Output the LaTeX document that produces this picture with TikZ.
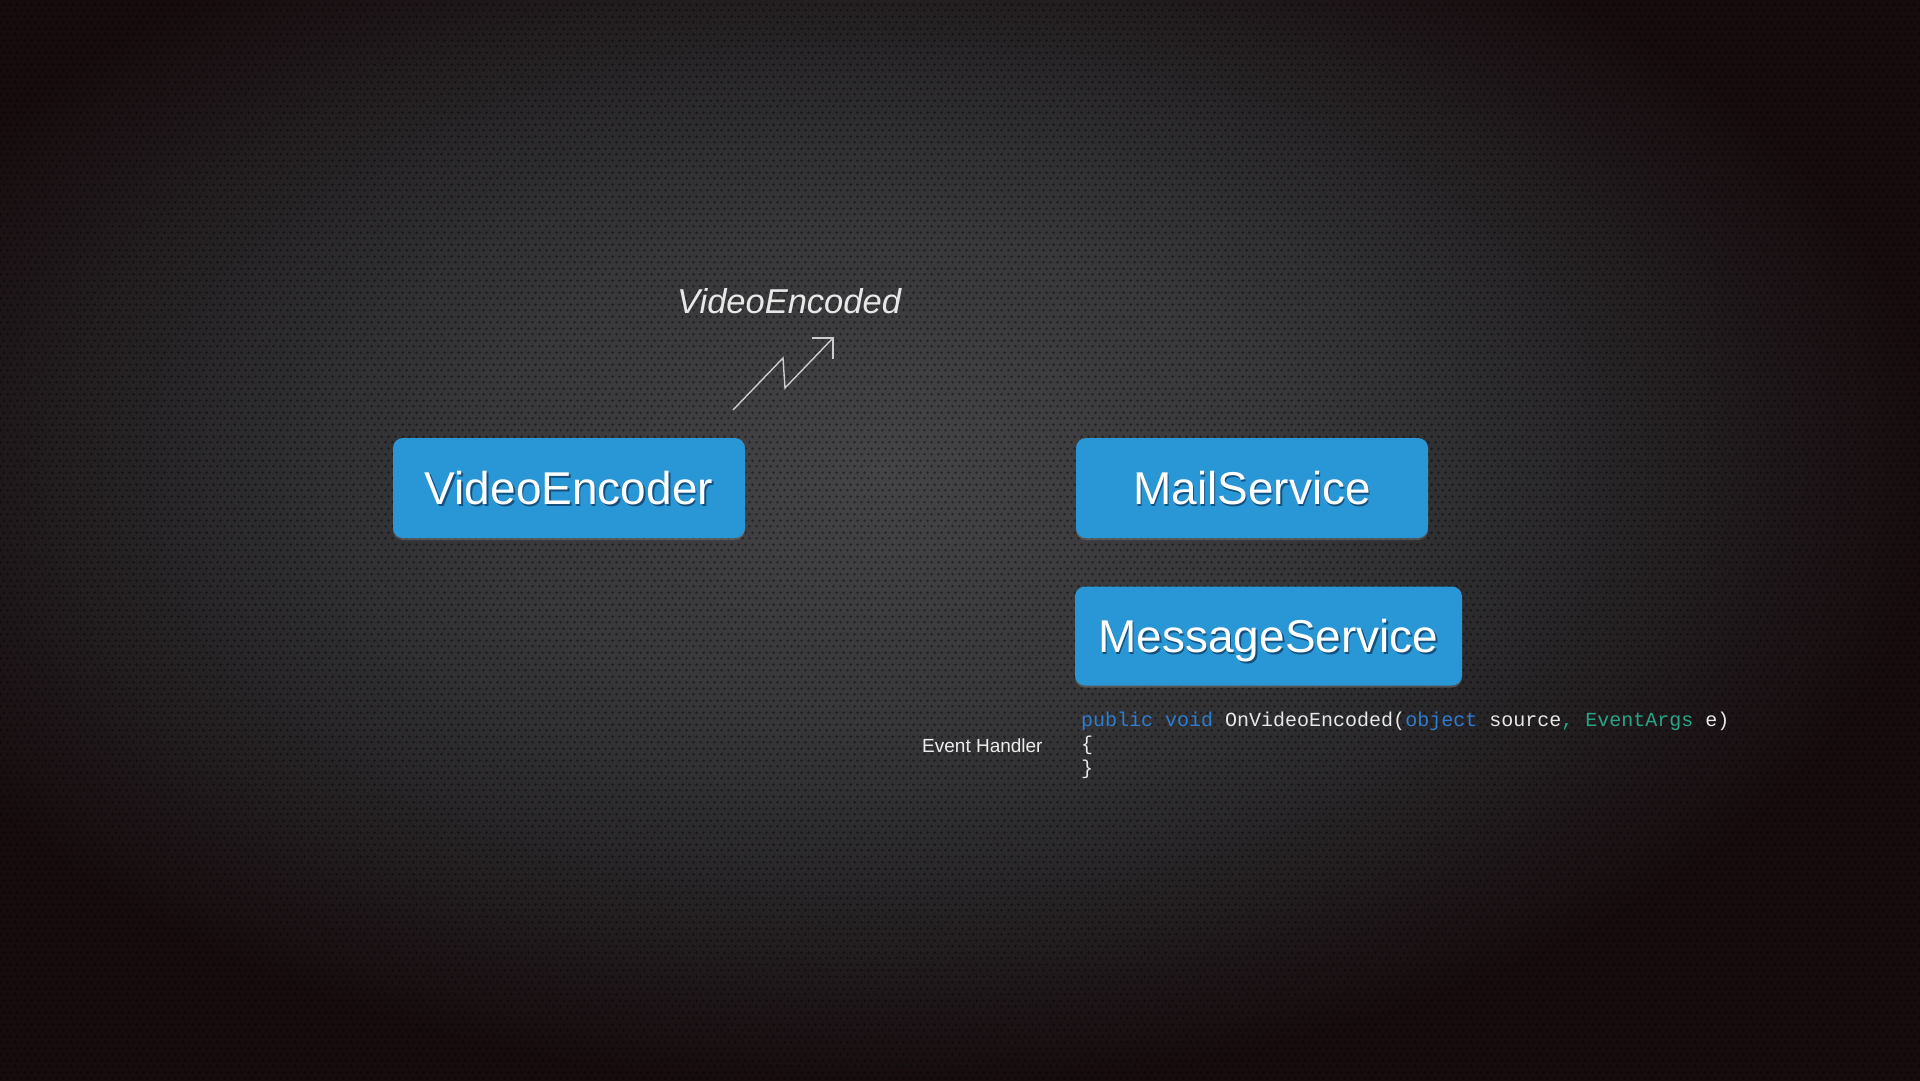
\documentclass[tikz,border=0pt]{standalone}
\usepackage{fontspec}
\setmainfont{Liberation Sans}
\newfontfamily\codefont{Liberation Mono}
\usetikzlibrary{patterns.meta,shadows}

\definecolor{bgA}{RGB}{68,68,70}
\definecolor{bgB}{RGB}{55,55,57}
\definecolor{bgC}{RGB}{39,37,39}
\definecolor{bgD}{RGB}{28,20,22}
\definecolor{bgE}{RGB}{22,12,14}
\definecolor{boxblue}{RGB}{41,151,214}
\definecolor{txtshadow}{RGB}{20,80,125}
\definecolor{kwblue}{RGB}{45,125,210}
\definecolor{typegreen}{RGB}{40,165,135}
\definecolor{codegray}{RGB}{232,232,232}
\definecolor{lightline}{RGB}{205,205,205}

\pgfdeclareradialshading{bgshade}{\pgfpoint{0bp}{0bp}}{color(0bp)=(bgA); color(10bp)=(bgB); color(17bp)=(bgC); color(22bp)=(bgD); color(25bp)=(bgE); color(50bp)=(bgE)}

\tikzdeclarepattern{
  name=hexmesh,
  type=uncolored,
  bounding box={(0pt,0pt) and (7pt,12pt)},
  tile size={(7pt,12pt)},
  code={
    \fill (1.75pt,3pt) circle (1.6pt);
    \fill (5.25pt,9pt) circle (1.6pt);
  }
}

\newcommand\shtext[1]{\makebox[0pt][l]{\raisebox{-2pt}{\kern1.5pt\textcolor{txtshadow}{#1}}}#1}

\tikzset{
  svcbox/.style={rectangle, rounded corners=10pt, fill=boxblue, text=white,
    minimum height=100pt, inner sep=0pt, text height=33pt, text depth=0pt,
    font=\fontsize{46}{50}\selectfont,
    drop shadow={opacity=0.45, shadow xshift=0pt, shadow yshift=-2pt}},
  evlabel/.style={text=codegray, font=\fontsize{34.5}{38}\selectfont\itshape, inner sep=0pt, anchor=base west},
  sidelabel/.style={text=codegray!80, font=\fontsize{19}{22}\selectfont, inner sep=0pt, anchor=base west},
  codeline/.style={text=codegray, font=\codefont\fontsize{20}{24}\selectfont, inner sep=0pt, anchor=base west},
  bolt/.style={draw=lightline, line width=1.4pt, line join=miter}
}

\begin{document}
\begin{tikzpicture}[x=1pt,y=-1pt]
\useasboundingbox (0,0) rectangle (1920,1080);
\begin{scope}
  \clip (0,0) rectangle (1920,1080);
  \fill[bgE] (0,0) rectangle (1920,1080);
  \shade[shading=bgshade] (-180,-150) rectangle (1940,1090);
  \fill[pattern=hexmesh, pattern color=black, opacity=0.42] (0,0) rectangle (1920,1080);
\end{scope}

% boxes
\node[svcbox, minimum width=352pt] (enc) at (569,488) {\shtext{VideoEncoder}};
\node[svcbox, minimum width=352pt] (mail) at (1252,488) {\shtext{MailService}};
\node[svcbox, minimum width=387pt, minimum height=99pt] (msg) at (1268.5,636) {\shtext{MessageService}};

% event label and bolt
\node[evlabel] (ev) at (677,313) {VideoEncoded};
\coordinate (b0) at (733,410);
\coordinate (b1) at (783,358);
\coordinate (b2) at (785,388);
\coordinate (b3) at (833,338);
\coordinate (h1) at (812,338);
\coordinate (h2) at (833,359);
\draw[bolt] (b0) -- (b1) -- (b2) -- (b3);
\draw[bolt] (h1) -- (b3) -- (h2);

% event handler code
\node[sidelabel] (eh) at (922,752) {Event Handler};
\node[codeline] (c1) at (1081,726) {\textcolor{kwblue}{public void} OnVideoEncoded(\textcolor{kwblue}{object} source\textcolor{typegreen}{, EventArgs} e)};
\node[codeline] (c2) at (1081,750) {\{};
\node[codeline] (c3) at (1081,774) {\}};
\end{tikzpicture}
\end{document}
